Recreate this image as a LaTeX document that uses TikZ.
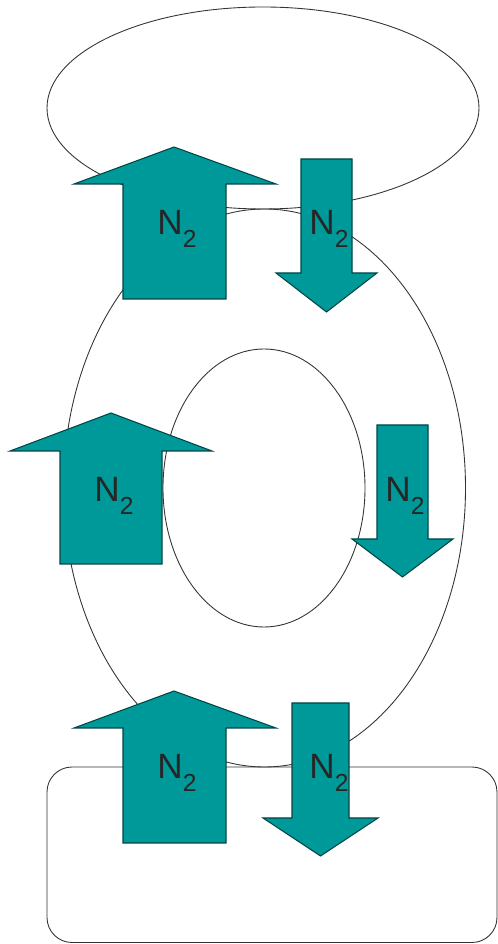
\documentclass[tikz,border=0pt]{standalone}
\usepackage{fontspec}
\setmainfont{Liberation Sans}
\usepackage{tikz}

\definecolor{petrol}{RGB}{0,153,153}
\newcommand{\stickstoff}{N\raisebox{-7pt}{\fontsize{14}{14}\selectfont 2}}

\begin{document}
\begin{tikzpicture}[scale=1,
		pfeil/.style={fill=petrol, draw=petrol!45!black, line width=0.6pt},
		kreis/.style={draw=black!80, line width=0.5pt},
		beschriftung/.style={anchor=base, inner sep=0pt, font=\fontsize{20}{24}\selectfont, text=black!85}]
		\useasboundingbox (0,0) rectangle (9.96,18.88);
		
		% Ellipsen und Kasten
		\draw[kreis] (5.26,16.72) ellipse (4.32 and 2.02); % oben
		\draw[kreis] (5.29,9.12) ellipse (4.02 and 5.58); % aussen
		\draw[kreis] (5.28,9.12) ellipse (2.02 and 2.78); % innen
		\draw[kreis, rounded corners=0.5cm] (0.94,0.03) rectangle (9.94,3.54); % unten
		
		% Pfeile nach oben
		\draw[pfeil] (2.46,12.9) -- (2.46,15.2) -- (1.48,15.2) -- (3.48,15.94) -- (5.52,15.2) -- (4.52,15.2) -- (4.52,12.9) -- cycle;
		\draw[pfeil] (1.2,7.6) -- (1.2,9.86) -- (0.2,9.86) -- (2.22,10.62) -- (4.24,9.86) -- (3.24,9.86) -- (3.24,7.6) -- cycle;
		\draw[pfeil] (2.46,2.02) -- (2.46,4.32) -- (1.48,4.32) -- (3.48,5.06) -- (5.52,4.32) -- (4.52,4.32) -- (4.52,2.02) -- cycle;
		
		% Pfeile nach unten
		\draw[pfeil] (6.02,15.7) -- (6.02,13.42) -- (5.52,13.42) -- (6.53,12.64) -- (7.54,13.42) -- (7.04,13.42) -- (7.04,15.7) -- cycle;
		\draw[pfeil] (7.54,10.38) -- (7.54,8.1) -- (7.04,8.1) -- (8.05,7.34) -- (9.06,8.1) -- (8.56,8.1) -- (8.56,10.38) -- cycle;
		\draw[pfeil] (5.84,4.82) -- (5.84,2.52) -- (5.26,2.52) -- (6.41,1.76) -- (7.56,2.52) -- (6.98,2.52) -- (6.98,4.82) -- cycle;
		
		% Beschriftung
		\node[beschriftung] (n1) at (3.54,14.18) {\stickstoff};
		\node[beschriftung] (n2) at (6.58,14.18) {\stickstoff};
		\node[beschriftung] (n3) at (2.28,8.84) {\stickstoff};
		\node[beschriftung] (n4) at (8.1,8.84) {\stickstoff};
		\node[beschriftung] (n5) at (3.54,3.3) {\stickstoff};
		\node[beschriftung] (n6) at (6.58,3.3) {\stickstoff};
	\end{tikzpicture}
\end{document}
